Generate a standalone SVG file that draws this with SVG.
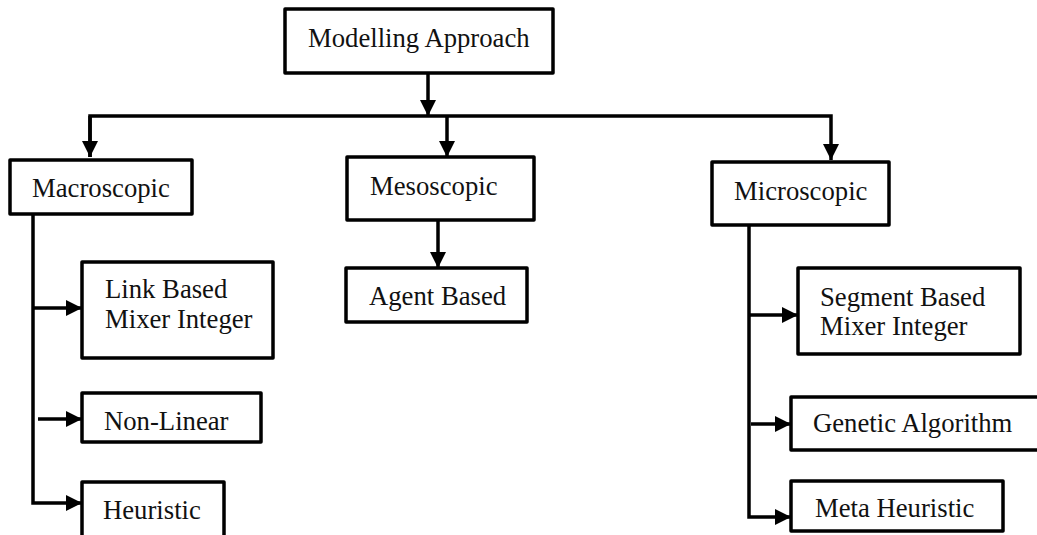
<svg xmlns="http://www.w3.org/2000/svg" width="1037" height="535" viewBox="0 0 1037 535">
  <style>
    .box { fill: #ffffff; stroke: #000000; stroke-width: 3.5; stroke-linejoin: round; }
    .lbl { font-family: "Liberation Serif", "Times New Roman", serif; font-size: 26.7px; fill: #111111; }
    .wire { fill: none; stroke: #000000; stroke-width: 3.5; stroke-linejoin: miter; }
    .arw { stroke: none; fill: #000000; }
  </style>
  <defs>
    <marker id="head" markerUnits="userSpaceOnUse" markerWidth="16" markerHeight="16" viewBox="0 0 16 16" refX="16" refY="8" orient="auto">
      <path d="M0,0 L16,8 L0,16 Z" class="arw"/>
    </marker>
  </defs>
  <rect width="1037" height="535" fill="#ffffff"/>

  <g id="connectors">
    <!-- root to bus -->
    <path class="wire" d="M428,73 V116" marker-end="url(#head)"/>
    <!-- bus with branches to the three scales -->
    <path class="wire" d="M90,157 V116 H831 V160" marker-end="url(#head)"/>
    <path class="wire" d="M90,116 V157" marker-end="url(#head)"/>
    <path class="wire" d="M447,116 V157" marker-end="url(#head)"/>
    <!-- macroscopic children -->
    <path class="wire" d="M33,214 V503 H82" marker-end="url(#head)"/>
    <path class="wire" d="M33,308 H82" marker-end="url(#head)"/>
    <path class="wire" d="M38,419 H82" marker-end="url(#head)"/>
    <!-- mesoscopic child -->
    <path class="wire" d="M438,220 V268" marker-end="url(#head)"/>
    <!-- microscopic children -->
    <path class="wire" d="M749,225 V517 H791" marker-end="url(#head)"/>
    <path class="wire" d="M749,315 H798" marker-end="url(#head)"/>
    <path class="wire" d="M751,424 H791" marker-end="url(#head)"/>
  </g>

  <g id="modelling-approach">
    <rect class="box" x="285" y="9" width="268" height="64"/>
    <text class="lbl" x="308" y="47">Modelling Approach</text>
  </g>

  <g id="macroscopic">
    <rect class="box" x="10" y="160" width="182" height="54"/>
    <text class="lbl" x="32" y="197">Macroscopic</text>
  </g>

  <g id="link-based">
    <rect class="box" x="82" y="262" width="191" height="96"/>
    <text class="lbl" x="105" y="298">Link Based</text>
    <text class="lbl" x="105" y="328">Mixer Integer</text>
  </g>

  <g id="non-linear">
    <rect class="box" x="82" y="393" width="179" height="49"/>
    <text class="lbl" x="104" y="430">Non-Linear</text>
  </g>

  <g id="heuristic">
    <rect class="box" x="82" y="482" width="142" height="70"/>
    <text class="lbl" x="103" y="519">Heuristic</text>
  </g>

  <g id="mesoscopic">
    <rect class="box" x="347" y="157" width="187" height="63"/>
    <text class="lbl" x="370" y="195">Mesoscopic</text>
  </g>

  <g id="agent-based">
    <rect class="box" x="346" y="268" width="181" height="54"/>
    <text class="lbl" x="369" y="305">Agent Based</text>
  </g>

  <g id="microscopic">
    <rect class="box" x="712" y="162" width="177" height="63"/>
    <text class="lbl" x="734" y="200">Microscopic</text>
  </g>

  <g id="segment-based">
    <rect class="box" x="798" y="268" width="222" height="86"/>
    <text class="lbl" x="820" y="306">Segment Based</text>
    <text class="lbl" x="820" y="335">Mixer Integer</text>
  </g>

  <g id="genetic-algorithm">
    <rect class="box" x="791" y="397" width="260" height="53"/>
    <text class="lbl" x="813" y="432">Genetic Algorithm</text>
  </g>

  <g id="meta-heuristic">
    <rect class="box" x="791" y="481" width="212" height="50"/>
    <text class="lbl" x="815" y="517">Meta Heuristic</text>
  </g>
</svg>
